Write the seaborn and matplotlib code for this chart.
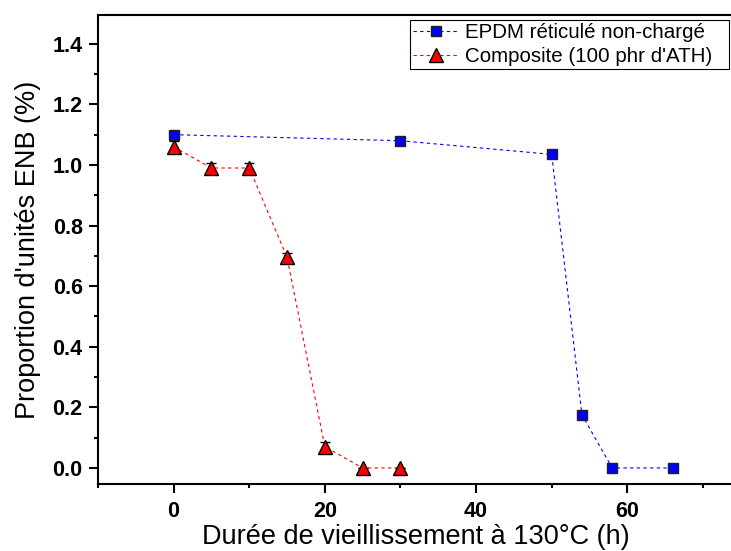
import matplotlib
matplotlib.use("Agg")
import matplotlib.pyplot as plt
import seaborn as sns
import pandas as pd
import numpy as np
from matplotlib.ticker import MultipleLocator, FormatStrFormatter

sns.set_style("ticks")
plt.rcParams['font.family'] = ['Liberation Sans', 'DejaVu Sans']
for k in ["text.color", "axes.labelcolor", "xtick.color", "ytick.color", "axes.edgecolor"]:
    plt.rcParams[k] = "black"

# Data
epdm_t = [0, 30, 50, 54, 58, 66]
epdm_y = [1.10, 1.08, 1.035, 0.175, 0.0, 0.0]
comp_t = [0, 5, 10, 15, 20, 25, 30]
comp_y = [1.06, 0.99, 0.99, 0.695, 0.07, 0.0, 0.0]
comp_err = [0.02, 0.015, 0.015, 0.015, 0.015, 0.0, 0.0]

labels = ["EPDM réticulé non-chargé", "Composite (100 phr d'ATH)"]

fig = plt.figure(figsize=(7.31, 5.51), dpi=100)
ax = fig.add_axes([98/731, (551-484)/551, (731-98)/731 + 0.003, (484-15)/551])

df_e = pd.DataFrame({"t": epdm_t, "y": epdm_y})
df_c = pd.DataFrame({"t": comp_t, "y": comp_y})

sns.lineplot(data=df_e, x="t", y="y", ax=ax, color="#0000ff", linestyle=(0, (3, 3)),
             linewidth=0.8, marker="s", markersize=7, markerfacecolor="#0000ff",
             markeredgecolor="#202020", markeredgewidth=1.0, label=labels[0], zorder=3)
sns.lineplot(data=df_c, x="t", y="y", ax=ax, color="#ff0000", linestyle=(0, (3, 3)),
             linewidth=0.8, marker="^", markersize=10, markerfacecolor="#ff0000",
             markeredgecolor="black", markeredgewidth=1.0, label=labels[1], zorder=3)
ax.errorbar(comp_t, comp_y, yerr=comp_err, fmt="none", ecolor="black",
            elinewidth=1.0, capsize=3.5, capthick=1.0, zorder=2)

ax.set_xlim(-10, 74)
ax.set_ylim(-0.053, 1.495)
ax.xaxis.set_major_locator(MultipleLocator(20))
ax.xaxis.set_minor_locator(MultipleLocator(10))
ax.yaxis.set_major_locator(MultipleLocator(0.2))
ax.yaxis.set_minor_locator(MultipleLocator(0.1))
ax.yaxis.set_major_formatter(FormatStrFormatter("%.1f"))

ax.tick_params(which="major", direction="out", length=6.5, width=1.5, labelsize=15.5, pad=4.5)
ax.tick_params(axis="x", which="major", pad=6)
ax.tick_params(which="minor", direction="out", length=3, width=1.5)
for lab in ax.get_xticklabels() + ax.get_yticklabels():
    lab.set_fontweight("bold")
for s in ax.spines.values():
    s.set_linewidth(1.5)

ax.set_xlabel("Durée de vieillissement à 130°C (h)", fontsize=19.5, labelpad=1.5)
ax.set_ylabel("Proportion d'unités ENB (%)", fontsize=19.5, labelpad=8)

leg = ax.legend(loc="upper left", bbox_to_anchor=(0.491, 0.5, 0.503, 0.489), mode="expand",
                fontsize=14.8, frameon=True, fancybox=False, edgecolor="black", framealpha=1,
                borderpad=0.15, labelspacing=0.25, handlelength=2.2, handletextpad=0.35,
                borderaxespad=0.0)
leg.get_frame().set_linewidth(0.8)

fig.savefig("out.png", dpi=100)
